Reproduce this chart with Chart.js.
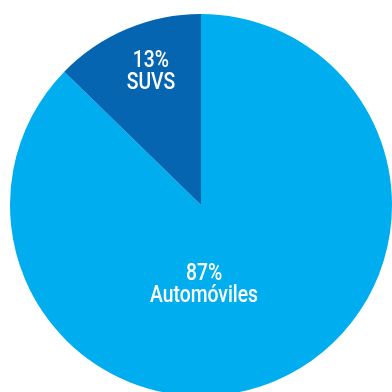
<!DOCTYPE html>
<html>
<head>
<meta charset="utf-8">
<script src="https://cdn.jsdelivr.net/npm/chart.js@4"></script>
<style>
  html, body { margin: 0; padding: 0; background: #fff; overflow: hidden; }
  #wrap { position: absolute; left: 0; top: 0; width: 410px; height: 410px; }
</style>
</head>
<body>
<div id="wrap"><canvas id="pieChart" width="410" height="410"></canvas></div>
<script>
var categories = ['Automóviles', 'SUVS'];
var shares = [87.3, 12.7];
var sliceColors = ['#00AEEF', '#0565B0'];

// label block centre, as a fraction of the radius from the pie centre
var labelSpots = [[0.016, 0.421], [-0.262, -0.697]];

var sliceLabels = {
    id: 'sliceLabels',
    afterDatasetsDraw: function(chart) {
        var ctx = chart.ctx;
        var meta = chart.getDatasetMeta(0);
        var squeeze = 0.84; // condensed look
        ctx.save();
        ctx.fillStyle = '#ffffff';
        ctx.font = '500 23px Roboto, "Liberation Sans", sans-serif';
        ctx.textAlign = 'center';
        ctx.textBaseline = 'middle';
        meta.data.forEach(function(arc, i) {
            var r = arc.outerRadius;
            var cx = arc.x + labelSpots[i][0] * r;
            var cy = arc.y + labelSpots[i][1] * r;
            ctx.save();
            ctx.translate(cx, cy);
            ctx.scale(squeeze, 1);
            ctx.fillText(Math.round(shares[i]) + '%', 0, -11);
            ctx.fillText(categories[i], 0, 11);
            ctx.restore();
        });
        ctx.restore();
    }
};

var ctx = document.getElementById('pieChart').getContext('2d');
var myChart = new Chart(ctx, {
    type: 'pie',
    data: {
        labels: categories,
        datasets: [{
            data: shares,
            backgroundColor: sliceColors,
            borderWidth: 0
        }]
    },
    options: {
        responsive: false,
        animation: false,
        layout: {
            padding: { left: 10, top: 14, right: 18, bottom: 14 }
        },
        plugins: {
            legend: { display: false },
            tooltip: { enabled: false }
        }
    },
    plugins: [sliceLabels]
});
</script>
</body>
</html>
